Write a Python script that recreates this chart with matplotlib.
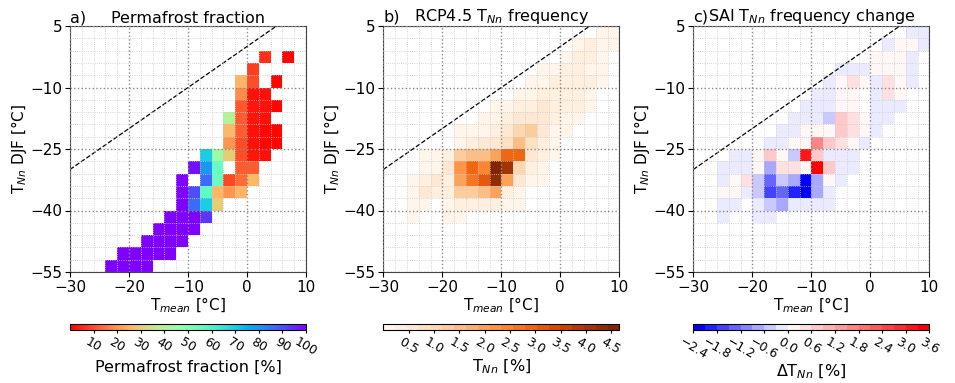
import numpy as np
import matplotlib
matplotlib.use("Agg")
import matplotlib.pyplot as plt
from matplotlib.colors import LinearSegmentedColormap

nan = np.nan

# bin edges of the 2-D histograms (T_mean in x, T_Nn DJF in y)
x_edges = np.arange(-30, 11, 2)
y_edges = np.arange(5, -56, -3)
x_ticks = [-30, -20, -10, 0, 10]
y_ticks = [5, -10, -25, -40, -55]
one_to_one = [-30, 5]

# rows: (top of T_Nn bin, left of first T_mean bin, values in consecutive bins)
perma_rows = [
    (-1, 2, [6, nan, 1]),
    (-4, 0, [8]),
    (-7, -2, [25, 10, nan, 1]),
    (-10, -2, [19, 2, 2]),
    (-13, -2, [11, 3, 2, 1]),
    (-16, -4, [40, 12, 3, 2]),
    (-19, -4, [26, 12, 2, 1, 1]),
    (-22, -4, [20, 10, 2, 1, 1]),
    (-25, -8, [70, 45, 30, 10, 3, 2]),
    (-28, -10, [98, 80, 55, nan, 12, 12]),
    (-31, -12, [100, nan, 86, 55, 9, 14, 26]),
    (-34, -12, [100, 90, 57, 25, 20, 25]),
    (-37, -12, [100, 86, 70, 30]),
    (-40, -14, [100, 100, 100, 93]),
    (-43, -16, [100, 100, 100, 100]),
    (-46, -18, [100, 100, 100, 100]),
    (-49, -22, [100, 100, 100, 100, 100]),
    (-52, -24, [100, 100, 100, 100]),
]

rcp_rows = [
    (5, 6, [0.2, 0.15]),
    (2, 2, [0.1, 0.3, 0.2, 0.15]),
    (-1, 0, [0.15, 0.35, 0.3, 0.2]),
    (-4, -4, [0.1, 0.15, 0.3, 0.45, 0.2, 0.15]),
    (-7, -6, [0.1, 0.15, 0.25, 0.4, 0.35, 0.25, 0.15]),
    (-10, -8, [0.1, 0.2, 0.35, 0.4, 0.35, 0.45, 0.2]),
    (-13, -12, [0.1, 0.15, 0.3, 0.4, 0.5, 0.35, 0.25, 0.25, 0.1]),
    (-16, -14, [0.1, 0.2, 0.4, 0.5, 0.6, 0.5, 0.3, 0.2, 0.1]),
    (-19, -18, [0.1, 0.1, 0.2, 0.4, 0.5, 1.0, 1.3, 0.5, 0.2, 0.15]),
    (-22, -18, [0.2, 0.3, 0.6, 0.6, 0.9, 1.6, 0.8, 0.3, 0.15]),
    (-25, -24, [0.1, 0.15, 0.3, 1.2, 1.6, 1.4, 2.0, 3.0, 3.0, 0.6, 0.3, 0.15]),
    (-28, -24, [0.1, 0.2, 0.5, 2.1, 3.0, 2.4, 4.66, 4.0, 1.0, 0.4, 0.15]),
    (-31, -26, [0.15, 0.3, 0.6, 0.4, 2.0, 2.7, 3.1, 4.3, 2.0, 0.5, 0.2, 0.1]),
    (-34, -26, [0.15, 0.5, 0.3, 0.3, 1.3, 1.2, 1.5, 1.9, 0.4, 0.2]),
    (-37, -26, [0.1, 0.15, nan, 0.15, 0.4, 0.4, 0.3, 0.3, 0.2, 0.1]),
    (-40, -26, [0.15, nan, nan, 0.15, 0.15]),
]

sai_rows = [
    (5, 6, [-0.1, -0.1]),
    (2, 2, [-0.1, 0.15, 0.15, -0.1]),
    (-1, 0, [0.1, 0.1, 0.1, -0.1]),
    (-4, -6, [-0.1, -0.1, -0.1, 0.1, 0.1, 0.1, -0.1]),
    (-7, -8, [-0.1, 0.1, 0.35, 0.1, -0.1, 0.4, 0.1, -0.1]),
    (-10, -10, [-0.1, -0.1, 0.1, 0.1, nan, -0.1, 0.3, 0.1]),
    (-13, -12, [-0.1, -0.1, -0.1, 0.1, 0.1, nan, -0.1, -0.1, -0.1]),
    (-16, -14, [-0.1, -0.1, -0.1, -0.5, 0.6, 0.5, 0.1, -0.1, -0.1]),
    (-19, -16, [-0.1, -0.1, 0.1, 0.1, 0.1, 0.6, 0.5, 0.15, -0.1]),
    (-22, -18, [-0.1, -0.1, 0.1, 0.15, 1.5, 0.9, 0.4, 0.1, -0.1]),
    (-25, -24, [-0.1, -0.1, 0.1, 0.6, 0.1, -0.5, 3.0, 0.8, -0.1, -0.1, -0.1]),
    (-28, -26, [-0.1, -0.1, -0.1, 0.05, -0.9, 0.4, 0.35, 0.1, 3.6, 0.6, -0.1, -0.1]),
    (-31, -26, [-0.1, 0.1, 0.35, -0.5, -1.3, -0.5, -0.9, -2.45, -0.8, 0.1, -0.1]),
    (-34, -26, [0.1, 0.1, -0.1, -0.5, -1.65, -1.2, -1.9, -2.45, -0.8, -0.1]),
    (-37, -26, [-0.1, -0.1, nan, -0.1, -0.5, -0.75, -0.1, -0.1, -0.1, -0.1]),
    (-40, -26, [-0.1, nan, nan, -0.1, -0.1]),
]

perma_ticks = [10, 20, 30, 40, 50, 60, 70, 80, 90, 100]
rcp_ticks = [0.5, 1.0, 1.5, 2.0, 2.5, 3.0, 3.5, 4.0, 4.5]
sai_ticks = [-2.4, -1.8, -1.2, -0.6, 0.0, 0.6, 1.2, 1.8, 2.4, 3.0, 3.6]


def to_grid(rows):
    g = np.full((len(y_edges) - 1, len(x_edges) - 1), np.nan)
    for ytop, x0, vals in rows:
        r = int(round((y_edges[0] - ytop) / 3))
        c = int(round((x0 - x_edges[0]) / 2))
        g[r, c:c + len(vals)] = vals
    return g


fig = plt.figure(figsize=(9.55, 3.83), dpi=100)
W, H = 955.0, 383.0
lefts = [70, 383.3, 693.3]
ax_w = 236
ax_top, ax_bot = 26, 272
cb_top, cb_bot = 324, 330

sai_cmap = LinearSegmentedColormap.from_list(
    "bwr_shift", [(0.0, "blue"), (0.4, "white"), (1.0, "red")], N=20)

panels = [
    dict(grid=to_grid(perma_rows), cmap=plt.get_cmap("rainbow_r"), vmin=0, vmax=100,
         tag="a)", title="Permafrost fraction", ticks=perma_ticks,
         fmt=lambda v: f"{v:d}", clabel="Permafrost fraction [%]"),
    dict(grid=to_grid(rcp_rows), cmap=plt.get_cmap("Oranges", 20), vmin=0, vmax=4.66,
         tag="b)", title="RCP4.5 T$_{Nn}$ frequency", ticks=rcp_ticks,
         fmt=lambda v: f"{v:.1f}", clabel="T$_{Nn}$ [%]"),
    dict(grid=to_grid(sai_rows), cmap=sai_cmap, vmin=-2.4, vmax=3.6,
         tag="c)", title="SAI T$_{Nn}$ frequency change", ticks=sai_ticks,
         fmt=lambda v: f"{v:.1f}".replace("-", "\u2212"), clabel="\u0394T$_{Nn}$ [%]"),
]

for left, p in zip(lefts, panels):
    ax = fig.add_axes([left / W, (H - ax_bot) / H, ax_w / W, (ax_bot - ax_top) / H])
    mesh = ax.pcolormesh(x_edges, y_edges, np.ma.masked_invalid(p["grid"]),
                         cmap=p["cmap"], vmin=p["vmin"], vmax=p["vmax"])
    ax.plot(one_to_one, one_to_one, "k--", lw=0.9)
    ax.set_xlim(x_edges[0], x_edges[-1])
    ax.set_ylim(y_edges[-1], y_edges[0])
    ax.set_xticks(x_ticks)
    ax.set_yticks(y_ticks)
    ax.set_xticks(x_edges, minor=True)
    ax.set_yticks(y_edges, minor=True)
    ax.tick_params(which="major", labelsize=11, length=3.5, pad=2)
    ax.tick_params(which="minor", length=0)
    for s in ax.spines.values():
        s.set_color("#444444")
    ax.set_axisbelow(False)
    ax.grid(which="major", ls=":", color="#888888", lw=1.0)
    ax.grid(which="minor", ls=":", color="#c8c8c8", lw=0.6)
    ax.set_xlabel("T$_{mean}$ [°C]", fontsize=11, labelpad=1)
    ax.set_ylabel("T$_{Nn}$ DJF [°C]", fontsize=11, labelpad=1)
    ax.set_title(p["title"], fontsize=11.5, pad=2)
    ax.set_title(p["tag"], loc="left", fontsize=11.5, pad=2)

    cax = fig.add_axes([left / W, (H - cb_bot) / H, ax_w / W, (cb_bot - cb_top) / H])
    cb = fig.colorbar(mesh, cax=cax, orientation="horizontal")
    cb.set_ticks(p["ticks"])
    cb.set_ticklabels([p["fmt"](v) for v in p["ticks"]])
    cb.ax.tick_params(labelsize=9, length=2.5, pad=1, labelrotation=-30)
    cb.outline.set_linewidth(0.8)
    cb.set_label(p["clabel"], fontsize=11.5, labelpad=1)

fig.savefig("out.png", dpi=100)
